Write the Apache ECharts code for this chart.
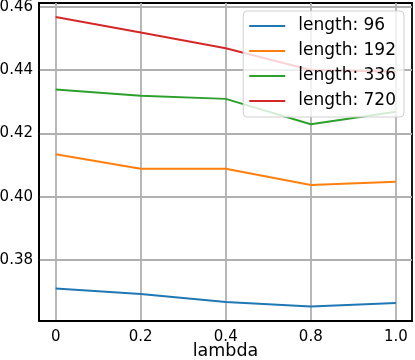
<!DOCTYPE html>
<html>
<head>
<meta charset="utf-8">
<script src="https://cdn.jsdelivr.net/npm/echarts@6/dist/echarts.min.js"></script>
<style>
  html, body { margin: 0; padding: 0; background: #fff; }
  #chart { width: 415px; height: 360px; }
</style>
</head>
<body>
<div id="chart"></div>
<script>
var chart = echarts.init(document.getElementById('chart'));

const lambdas = ['0', '0.2', '0.4', '0.8', '1.0'];
const yTicks = [0.38, 0.40, 0.42, 0.44, 0.46];

const len96 = [0.3710, 0.3692, 0.3667, 0.3653, 0.3664];
const len192 = [0.4134, 0.4088, 0.4088, 0.4037, 0.4047];
const len336 = [0.4339, 0.4319, 0.4309, 0.4229, 0.4268];
const len720 = [0.4568, 0.4519, 0.4469, 0.4400, 0.4395];

const lines = [
  ['length: 96', '#1f77b4', len96],
  ['length: 192', '#ff7f0e', len192],
  ['length: 336', '#2ca02c', len336],
  ['length: 720', '#d62728', len720]
];

var series = [];
lines.forEach(function (l) {
  series.push({
    name: l[0],
    type: 'line',
    color: l[1],
    symbol: 'none',
    lineStyle: { width: 2 },
    // x is the index of the lambda value, so steps stay even
    data: l[2].map(function (v, i) { return [i, v]; })
  });
});

var font = 'DejaVu Sans';
var idx = lambdas.map(function (d, i) { return i; });

var option = {
  animation: false,
  backgroundColor: '#fff',
  grid: {
    left: 39, right: 3, top: 3, bottom: 39,
    outerBoundsMode: 'none',
    show: true,
    borderColor: '#000',
    borderWidth: 1.8
  },
  legend: {
    orient: 'vertical',
    right: 11,
    top: 11,
    icon: 'rect',
    itemWidth: 36,
    itemHeight: 2,
    itemGap: 5,
    padding: [5, 8, 6, 6],
    backgroundColor: 'rgba(255,255,255,0.8)',
    borderColor: '#d0d0d0',
    borderWidth: 1,
    borderRadius: 4,
    textStyle: {
      fontFamily: font, fontSize: 17, color: '#000',
      lineHeight: 20, padding: [0, 0, 0, 8]
    },
    data: lines.map(function (l) { return l[0]; })
  },
  xAxis: {
    type: 'value',
    min: -0.196,
    max: 4.19,
    name: 'lambda',
    nameLocation: 'middle',
    nameGap: 21,
    nameMoveOverlap: false,
    nameTextStyle: { fontFamily: font, fontSize: 17.5, color: '#000', verticalAlign: 'top' },
    axisLine: { show: true, onZero: false, lineStyle: { color: '#000', width: 1.8 } },
    axisTick: { show: false, customValues: idx },
    axisLabel: {
      customValues: idx,
      margin: 9,
      fontFamily: font, fontSize: 15, color: '#000',
      formatter: function (v) { return lambdas[Math.round(v)]; }
    },
    splitLine: { show: true, lineStyle: { color: '#b0b0b0', width: 1.8 } }
  },
  yAxis: {
    type: 'value',
    min: 0.3607,
    max: 0.4612,
    axisLine: { show: true, onZero: false, lineStyle: { color: '#000', width: 1.8 } },
    axisTick: { show: false, customValues: yTicks },
    axisLabel: {
      customValues: yTicks,
      margin: 6,
      fontFamily: font, fontSize: 15, color: '#000',
      formatter: function (v) { return v.toFixed(2); }
    },
    splitLine: { show: true, lineStyle: { color: '#b0b0b0', width: 1.8 } }
  },
  series: series
};

chart.setOption(option);
</script>
</body>
</html>
